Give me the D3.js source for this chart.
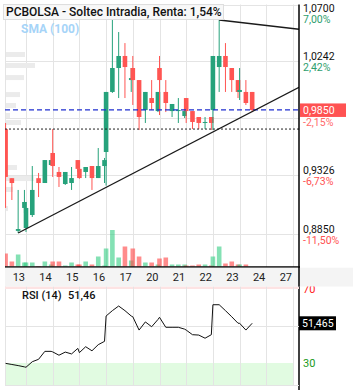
<!DOCTYPE html>
<html>
<head>
<meta charset="utf-8">
<script src="https://cdn.jsdelivr.net/npm/d3@7"></script>
<style>
body { margin: 0; background: #fff; }
svg { display: block; font-family: Roboto, "Noto Sans", sans-serif; }
</style>
</head>
<body>
<svg id="chart" width="353" height="390"></svg>
<script>
// Trading sessions on the x axis (9:00 - 17:30, 2h candles)
const days = ['13', '14', '15', '16', '17', '20', '21', '22', '23', '24', '27'];
const HOURS_PER_DAY = 8.5;

// Candle times ("day hour") and OHLC values
const candleTimes = [
    '13 11', '13 13', '13 15', '13 17',
    '14 09', '14 11', '14 13', '14 15', '14 17',
    '15 09', '15 11', '15 13', '15 15', '15 17',
    '16 09', '16 11', '16 13', '16 15', '16 17',
    '17 09', '17 11', '17 13', '17 15', '17 17',
    '20 09', '20 11', '20 13', '20 15', '20 17',
    '21 09', '21 11', '21 13', '21 15', '21 17',
    '22 09', '22 11', '22 13', '22 15', '22 17',
    '23 09', '23 11', '23 13', '23 15', '23 17',
    '24 09', '24 11', '24 13'
];
// [open, high, low, close]
const ohlc = [
    [0.9696, 0.9745, 0.9060, 0.9310], [0.9300, 0.9300, 0.9124, 0.9261], [0.8875, 0.9205, 0.8858, 0.8890], [0.9060, 0.9205, 0.9019, 0.9108],
    [0.8898, 0.9108, 0.8866, 0.9060], [0.9003, 0.9398, 0.8987, 0.9205], [0.9300, 0.9342, 0.9148, 0.9261], [0.9261, 0.9446, 0.9261, 0.9446], [0.9406, 0.9446, 0.9406, 0.9446],
    [0.9503, 0.9696, 0.9310, 0.9398], [0.9350, 0.9390, 0.9229, 0.9310], [0.9253, 0.9350, 0.9245, 0.9350], [0.9261, 0.9390, 0.9205, 0.9301], [0.9446, 0.9446, 0.9350, 0.9375],
    [0.9375, 0.9390, 0.9295, 0.9301], [0.9350, 0.9390, 0.9301, 0.9390], [0.9398, 0.9398, 0.9205, 0.9301], [0.9301, 0.9543, 0.9301, 0.9398], [0.9398, 0.9463, 0.9261, 0.9446],
    [0.9511, 0.9995, 0.9240, 0.9995], [0.9995, 1.0575, 0.9987, 1.0188], [1.0188, 1.0478, 0.9946, 1.0285], [1.0285, 1.0389, 0.9946, 1.0196], [1.0091, 1.0188, 0.9995, 1.0107],
    [1.0188, 1.0285, 0.9890, 1.0091], [1.0091, 1.0091, 0.9688, 0.9793], [0.9849, 0.9995, 0.9745, 0.9995], [0.9946, 1.0091, 0.9849, 0.9906], [0.9841, 0.9995, 0.9833, 0.9995],
    [1.0188, 1.0285, 0.9809, 1.0091], [0.9995, 1.0091, 0.9833, 0.9906], [0.9841, 0.9898, 0.9793, 0.9898], [0.9841, 0.9946, 0.9745, 0.9849], [0.9801, 0.9841, 0.9785, 0.9841],
    [0.9946, 0.9946, 0.9745, 0.9841], [0.9841, 0.9841, 0.9696, 0.9753], [0.9793, 0.9793, 0.9696, 0.9745], [0.9745, 0.9793, 0.9696, 0.9753], [0.9793, 0.9793, 0.9688, 0.9745],
    [0.9849, 1.0285, 0.9688, 1.0285], [1.0196, 1.0575, 0.9995, 1.0285], [1.0285, 1.0389, 0.9995, 1.0196], [1.0188, 1.0188, 0.9995, 1.0091], [1.0091, 1.0091, 0.9946, 0.9995],
    [0.9995, 1.0188, 0.9930, 1.0011], [0.9995, 1.0091, 0.9890, 0.9906], [0.9995, 0.9995, 0.9833, 0.9850]
];
// Volume per candle (thousands)
const volumes = [
    130, 50, 120, 40,
    40, 40, 5, 50, 20,
    50, 50, 10, 40, 20,
    20, 50, 20, 100, 10,
    180, 365, 90, 200, 60,
    180, 100, 40, 40, 20,
    80, 90, 20, 20, 20,
    10, 10, 20, 20, 10,
    100, 200, 30, 50, 20,
    20, 20, 0
];
// RSI (14) per candle
const rsiValues = [
    29.8, 29.2, 28.6, 27.9,
    27.7, 30.7, 32.0, 36.3, 36.3,
    36.0, 34.2, 35.9, 34.9, 37.9,
    35.6, 38.8, 36.6, 39.9, 41.7,
    55.4, 58.3, 60.8, 58.3, 55.4,
    55.0, 47.8, 52.2, 49.6, 53.5,
    54.7, 49.3, 49.3, 49.3, 48.3,
    47.8, 45.3, 45.1, 43.4, 45.3,
    61.5, 61.5, 58.3, 55.0, 51.5,
    51.5, 47.8, 51.4649
];

// Volume profile on the left edge
const profilePrices = [1.0297, 1.0208, 1.0111, 0.9974, 0.9886, 0.9805, 0.9749, 0.9386, 0.9297, 0.9209, 0.9055];
const profileVolumes = [1900, 2900, 1800, 1400, 1000, 400, 1500, 1100, 2800, 700, 200];

// Price axis
const gridPrices = [1.0700, 1.0242, 0.9784, 0.9326, 0.8850];
const priceTicks = [1.0700, 1.0242, 0.9326, 0.8850];
const pctTicks = ['7,00%', '2,42%', '-6,73%', '-11,50%'];
const lastPct = '-2,15%';
const refPrice = 0.9696;

// Trend lines: two anchors each, extended to the right edge
const upperTrend = [['23 11', 1.0575], ['27 09', 1.0531]];
const lowerTrend = [['13 15', 0.8858], ['22 17', 0.9666]];

const rsiGrid = [50];

// Colours
const GREEN = '#26a27b';
const RED = '#ff5552';

// Layout
const plotLeft = 5, plotRight = 299;
const priceTop = 4.5, priceBottom = 267;
const bandBottom = 286.5, rsiBottom = 385;

const locale = d3.formatLocale({decimal: ',', thousands: '.', grouping: [3], currency: ['', ' €']});
const fmtPrice = locale.format('.4f');

function toHours(s) {
    const [d, h] = s.split(' ');
    return days.indexOf(d) * HOURS_PER_DAY + (+h - 9);
}

const x = d3.scaleLinear()
    .domain([0, days.length * HOURS_PER_DAY])
    .range([-0.7, 293]);

const y = d3.scaleLinear()
    .domain([0.885, 1.07])
    .range([234, 4.5]);

const yVol = d3.scaleLinear()
    .domain([0, 400])
    .range([266.5, 226.5]);

const wProfile = d3.scaleLinear()
    .domain([0, 3000])
    .range([0, 30]);

const yRsi = d3.scaleLinear()
    .domain([30, 70])
    .range([363, 289]);

const candles = candleTimes.map((t, i) => ({
    t: toHours(t),
    o: ohlc[i][0], h: ohlc[i][1], l: ohlc[i][2], c: ohlc[i][3],
    v: volumes[i], rsi: rsiValues[i]
}));

const svg = d3.select('#chart');
const dayEnds = days.map((d, i) => x((i + 1) * HOURS_PER_DAY));

svg.append('defs').append('clipPath').attr('id', 'plotClip')
    .append('rect')
    .attr('x', plotLeft).attr('y', priceTop)
    .attr('width', plotRight - plotLeft).attr('height', priceBottom - priceTop);

// ---- Price panel ----
const grid = svg.append('g').attr('stroke', '#e4e4e4').attr('stroke-width', 1);
grid.selectAll('.hg').data(gridPrices).enter().append('line')
    .attr('x1', plotLeft).attr('x2', plotRight)
    .attr('y1', d => Math.round(y(d)) + 0.5).attr('y2', d => Math.round(y(d)) + 0.5);
grid.selectAll('.vg').data(dayEnds).enter().append('line')
    .attr('x1', d => Math.round(d) + 0.5).attr('x2', d => Math.round(d) + 0.5)
    .attr('y1', priceTop).attr('y2', priceBottom);
grid.append('line')
    .attr('x1', plotLeft + 0.5).attr('x2', plotLeft + 0.5)
    .attr('y1', priceTop).attr('y2', rsiBottom);

const plot = svg.append('g').attr('clip-path', 'url(#plotClip)');

// Volume profile
plot.selectAll('.profile').data(profilePrices).enter().append('rect')
    .attr('x', plotLeft + 1)
    .attr('y', d => y(d) - 2.5)
    .attr('width', (d, i) => wProfile(profileVolumes[i]))
    .attr('height', 5)
    .attr('fill', '#ebebeb');

// Volume bars
plot.selectAll('.vol').data(candles).enter().append('rect')
    .attr('x', d => x(d.t) - 2.3)
    .attr('y', d => yVol(d.v))
    .attr('width', 4.6)
    .attr('height', d => yVol(0) - yVol(d.v))
    .attr('fill', d => d.c >= d.o ? 'rgba(50,205,130,0.6)' : 'rgba(255,70,70,0.62)');

// Candles
const candle = plot.selectAll('.candle').data(candles).enter().append('g');
candle.append('line')
    .attr('x1', d => x(d.t)).attr('x2', d => x(d.t))
    .attr('y1', d => y(d.h)).attr('y2', d => y(d.l))
    .attr('stroke', d => d.c >= d.o ? GREEN : RED)
    .attr('stroke-width', 1);
candle.append('rect')
    .attr('x', d => x(d.t) - 2.3)
    .attr('y', d => y(Math.max(d.o, d.c)))
    .attr('width', 4.6)
    .attr('height', d => Math.max(1, Math.abs(y(d.o) - y(d.c))))
    .attr('fill', d => d.c >= d.o ? GREEN : RED);

// Reference lines
const lastClose = candles[candles.length - 1].c;
plot.append('line')
    .attr('x1', plotLeft).attr('x2', plotRight)
    .attr('y1', y(refPrice)).attr('y2', y(refPrice))
    .attr('stroke', '#222').attr('stroke-width', 1).attr('stroke-dasharray', '2,2');
plot.append('line')
    .attr('x1', plotLeft).attr('x2', plotRight)
    .attr('y1', y(lastClose)).attr('y2', y(lastClose))
    .attr('stroke', '#1f2fd0').attr('stroke-width', 1.2).attr('stroke-dasharray', '5,3');

// Trend lines
function trendPoints(tr) {
    const t0 = toHours(tr[0][0]), t1 = toHours(tr[1][0]);
    const slope = (tr[1][1] - tr[0][1]) / (t1 - t0);
    const tEnd = x.invert(plotRight);
    return [[x(t0), y(tr[0][1])], [x(tEnd), y(tr[0][1] + slope * (tEnd - t0))]];
}
[upperTrend, lowerTrend].forEach(tr => {
    plot.append('path')
        .attr('d', d3.line()(trendPoints(tr)))
        .attr('stroke', '#1a1a1a').attr('stroke-width', 1.3).attr('fill', 'none');
});

// Title and legend
svg.append('rect')
    .attr('x', 3.5).attr('y', 4.5).attr('width', 220).attr('height', 15)
    .attr('fill', 'rgba(247,247,247,0.92)').attr('stroke', '#dedede');
svg.append('text')
    .attr('x', 6).attr('y', 16)
    .attr('font-size', 12).attr('font-weight', 500).attr('fill', '#111')
    .text('PCBOLSA - Soltec Intradia, Renta: 1,54%');
svg.append('text')
    .attr('x', 21).attr('y', 33)
    .attr('font-size', 12).attr('font-weight', 'bold').attr('fill', '#a6d4f8')
    .text('SMA (100)');

// Frame lines
svg.append('line')
    .attr('x1', plotLeft).attr('x2', plotRight + 1)
    .attr('y1', priceBottom).attr('y2', priceBottom)
    .attr('stroke', '#000').attr('stroke-width', 1.5);
svg.append('line')
    .attr('x1', plotRight).attr('x2', plotRight)
    .attr('y1', priceTop).attr('y2', 390)
    .attr('stroke', '#000').attr('stroke-width', 1.5);

// Right price labels
const labels = svg.append('g').attr('font-size', 10.5);
priceTicks.forEach((p, i) => {
    const base = i === 0 ? 12 : y(p) - 1;
    labels.append('text').attr('x', 303).attr('y', base).attr('fill', '#111').text(fmtPrice(p));
    labels.append('text').attr('x', 303).attr('y', base + 11)
        .attr('fill', pctTicks[i].startsWith('-') ? '#ff5252' : '#2e9e6e')
        .text(pctTicks[i]);
});
svg.append('rect')
    .attr('x', 300).attr('y', y(lastClose) - 6.5).attr('width', 46).attr('height', 13.5)
    .attr('fill', '#ff5252');
svg.append('text')
    .attr('x', 303).attr('y', y(lastClose) + 4.5)
    .attr('font-size', 10.5).attr('fill', '#fff')
    .text(fmtPrice(lastClose));
svg.append('text')
    .attr('x', 303).attr('y', y(lastClose) + 16.5)
    .attr('font-size', 10.5).attr('fill', '#ff6b6b')
    .text(lastPct);

// ---- RSI panel ----
svg.append('rect')
    .attr('x', plotLeft).attr('y', bandBottom)
    .attr('width', plotRight - plotLeft).attr('height', yRsi(70) - bandBottom)
    .attr('fill', '#fde3e3');
svg.append('rect')
    .attr('x', plotLeft + 1).attr('y', yRsi(30))
    .attr('width', plotRight - plotLeft - 6).attr('height', rsiBottom - yRsi(30))
    .attr('fill', '#e1fbe1');

const rsiGridG = svg.append('g').attr('stroke', '#e4e4e4').attr('stroke-width', 1);
rsiGridG.selectAll('.rh').data(rsiGrid).enter().append('line')
    .attr('x1', plotLeft).attr('x2', plotRight)
    .attr('y1', d => Math.round(yRsi(d)) + 0.5).attr('y2', d => Math.round(yRsi(d)) + 0.5);
rsiGridG.selectAll('.rv').data(dayEnds).enter().append('line')
    .attr('x1', d => Math.round(d) + 0.5).attr('x2', d => Math.round(d) + 0.5)
    .attr('y1', bandBottom).attr('y2', rsiBottom);
rsiGridG.append('line')
    .attr('x1', plotLeft).attr('x2', plotRight)
    .attr('y1', rsiBottom + 0.5).attr('y2', rsiBottom + 0.5);

svg.append('path')
    .datum(candles)
    .attr('d', d3.line().x(d => x(d.t)).y(d => yRsi(d.rsi)))
    .attr('fill', 'none').attr('stroke', '#111').attr('stroke-width', 1);

const lastRsi = rsiValues[rsiValues.length - 1];
svg.append('text')
    .attr('x', 22).attr('y', 299)
    .attr('font-size', 11).attr('font-weight', 500).attr('fill', '#111')
    .text('RSI (14)');
svg.append('text')
    .attr('x', 68).attr('y', 299)
    .attr('font-size', 11).attr('font-weight', 500).attr('fill', '#111')
    .text(locale.format('.2f')(Math.floor(lastRsi * 100) / 100));

svg.append('rect')
    .attr('x', 299).attr('y', yRsi(lastRsi) - 7).attr('width', 37).attr('height', 14)
    .attr('fill', '#000');
svg.append('text')
    .attr('x', 302).attr('y', yRsi(lastRsi) + 4)
    .attr('font-size', 10.5).attr('fill', '#fff')
    .text(locale.format('.3f')(lastRsi));

svg.append('text')
    .attr('x', 303).attr('y', yRsi(70) + 4)
    .attr('font-size', 11).attr('fill', '#ff2020').text('70');
svg.append('text')
    .attr('x', 303).attr('y', yRsi(30) + 4)
    .attr('font-size', 11).attr('fill', '#1a9a1a').text('30');

// ---- X axis band ----
svg.append('rect')
    .attr('x', plotLeft).attr('y', priceBottom + 0.75)
    .attr('width', 353 - plotLeft).attr('height', bandBottom - priceBottom - 0.75)
    .attr('fill', '#f4f4f4');
svg.append('line')
    .attr('x1', plotRight).attr('x2', plotRight)
    .attr('y1', priceBottom).attr('y2', bandBottom)
    .attr('stroke', '#000').attr('stroke-width', 1.5);
svg.append('g').selectAll('text').data(days).enter().append('text')
    .attr('x', (d, i) => dayEnds[i] - 1)
    .attr('y', 281)
    .attr('text-anchor', 'end')
    .attr('font-size', 11).attr('fill', '#222')
    .text(d => d);
</script>
</body>
</html>
